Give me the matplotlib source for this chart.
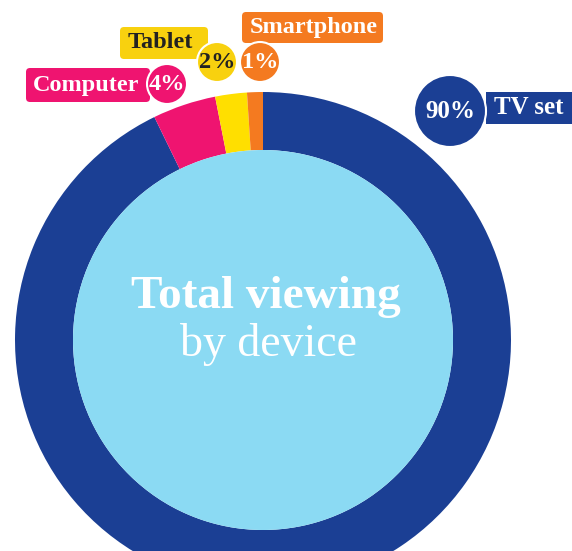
import matplotlib.pyplot as plt
from matplotlib.patches import Circle, FancyBboxPatch

# data
devices = ['TV set', 'Computer', 'Tablet', 'Smartphone']
shares = [90, 4, 2, 1]
share_labels = ['90%', '4%', '2%', '1%']
slice_colors = ['#1b3f94', '#ef1470', '#ffdf00', '#f47a20']
box_colors = ['#1b3f94', '#ef1470', '#f8d10f', '#f47a20']
text_colors = ['white', 'white', '#222222', 'white']

W, H = 572, 551


def Y(py):
    # pixel row (top-down) -> axis y
    return H - py


fig = plt.figure(figsize=(W / 100, H / 100), dpi=100)
ax = fig.add_axes([0, 0, 1, 1])
ax.set_xlim(0, W)
ax.set_ylim(0, H)
ax.set_aspect('equal')
ax.axis('off')

cx, cy = 263, Y(340)
r_out, r_in = 248, 190

ax.pie(shares, colors=slice_colors, startangle=90, counterclock=False,
       center=(cx, cy), radius=r_out,
       wedgeprops=dict(width=r_out - r_in, linewidth=0))
ax.add_patch(Circle((cx, cy), r_in, facecolor='#8bdaf3', edgecolor='none'))
ax.set_xlim(0, W)
ax.set_ylim(0, H)

serif = 'Liberation Serif'
ax.text(cx + 3, Y(297), 'Total viewing', ha='center', va='center', color='white',
        fontsize=34, fontweight='bold', family=serif)
ax.text(cx + 6, Y(345), 'by device', ha='center', va='center', color='white',
        fontsize=33, family=serif)

# callouts: box (x0, y0, x1, y1), label anchor, circle centre, circle radius, font size
callouts = {
    'TV set': ((486, 92, 580, 124), (494, 108, 'left'), (450, 111), 36, 18),
    'Computer': ((26, 68, 150, 102), (86, 85, 'center'), (167, 84), 20, 17.5),
    'Tablet': ((120, 27, 208, 59), (160, 43, 'center'), (217, 62), 20, 17.5),
    'Smartphone': ((242, 12, 383, 43), (314, 27, 'center'), (260, 62), 20, 17.5),
}

for i, dev in enumerate(devices):
    (x0, y0, x1, y1), (tx, ty, ha), (ccx, ccy), cr, fs = callouts[dev]
    rounding = 0 if dev == 'TV set' else 4
    box = FancyBboxPatch((x0, Y(y1)), x1 - x0, y1 - y0,
                         boxstyle=f'round,pad=0,rounding_size={rounding}',
                         facecolor=box_colors[i], edgecolor='none', zorder=3,
                         clip_on=False)
    ax.add_patch(box)
    ax.text(tx, Y(ty), dev, ha=ha, va='center', color=text_colors[i],
            fontsize=fs, fontweight='bold', family=serif, zorder=5)
    ax.add_patch(Circle((ccx, Y(ccy)), cr, facecolor=box_colors[i],
                        edgecolor='white', linewidth=1.5, zorder=4))
    ax.text(ccx, Y(ccy), share_labels[i], ha='center', va='center',
            color=text_colors[i], fontsize=fs, fontweight='bold', family=serif,
            zorder=5)

fig.savefig('out.png', dpi=100)
